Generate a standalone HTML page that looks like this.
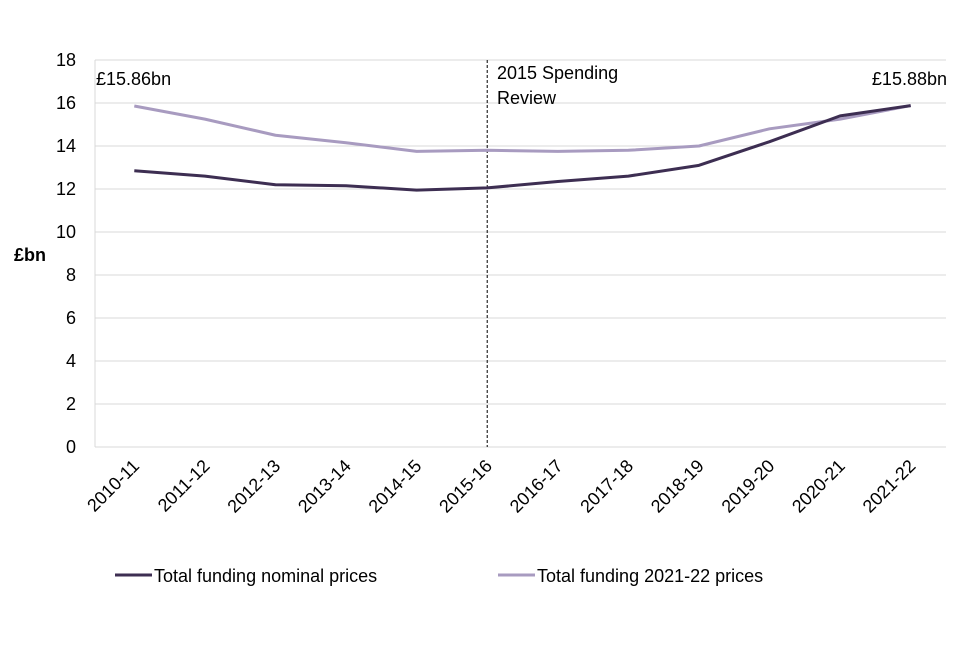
<!DOCTYPE html>
<html><head><meta charset="utf-8"><style>
body{margin:0;background:#fff;}
svg text{font-family:"Liberation Sans",Arial,sans-serif;fill:#000;}
</style></head><body>
<svg id="chart" width="960" height="640" viewBox="0 0 960 640" xmlns="http://www.w3.org/2000/svg">
<g id="grid"></g>
<g id="yticks"></g>
<g id="xticks"></g>
<text x="14" y="261" font-size="18" font-weight="bold">£bn</text>
<g id="series"></g>
<text x="96" y="85" font-size="18">£15.86bn</text>
<text x="947" y="85" font-size="18" text-anchor="end">£15.88bn</text>
<text x="497" y="79" font-size="18">2015 Spending</text>
<text x="497" y="104" font-size="18">Review</text>
<g>
<line x1="115" y1="575" x2="152" y2="575" stroke="#3d2e52" stroke-width="3"/>
<text x="154" y="582" font-size="18">Total funding nominal prices</text>
<line x1="498" y1="575" x2="535" y2="575" stroke="#a89bc0" stroke-width="3"/>
<text x="537" y="582" font-size="18">Total funding 2021-22 prices</text>
</g>
</svg>
<script>
const categories=["2010-11","2011-12","2012-13","2013-14","2014-15","2015-16","2016-17","2017-18","2018-19","2019-20","2020-21","2021-22"];
const nominal=[12.85,12.6,12.2,12.15,11.95,12.05,12.35,12.6,13.1,14.2,15.4,15.88];
const real=[15.86,15.25,14.5,14.15,13.75,13.8,13.75,13.8,14.0,14.8,15.25,15.88];
const yTicks=[0,2,4,6,8,10,12,14,16,18];
const reviewIndex=5;
const L=99,R=946,T=60,B=447,ymax=18;
const NS="http://www.w3.org/2000/svg";
const bw=(R-L)/categories.length;
const xs=i=>L+bw*(i+0.5);
const ys=v=>B-(v/ymax)*(B-T);
function mk(tag,attrs,parent){const e=document.createElementNS(NS,tag);for(const k in attrs)e.setAttribute(k,attrs[k]);parent.appendChild(e);return e;}
const grid=document.getElementById('grid'),yt=document.getElementById('yticks'),xt=document.getElementById('xticks'),ser=document.getElementById('series');
yTicks.forEach(v=>{
 if(v>0){const g=mk('line',{x1:95,x2:R,y1:ys(v),y2:ys(v),stroke:'#d9d9d9','stroke-width':1},grid);
 
 }
 const t=mk('text',{x:95-19,y:ys(v)+6,'font-size':18,'text-anchor':'end'},yt);t.textContent=v;
 
 
});
const ax=mk('line',{x1:95,x2:95,y1:T,y2:B,stroke:'#d9d9d9'},grid);


const bx=mk('line',{x1:95,x2:R,y1:B,y2:B,stroke:'#d9d9d9'},grid);


categories.forEach((c,i)=>{
 const x=xs(i)+6,y=B+20;
 const t=mk('text',{x:x,y:y,'font-size':18,'text-anchor':'end',transform:`rotate(-45 ${x} ${y})`},xt);t.textContent=c;
 
 
});
const dl=mk('line',{x1:xs(reviewIndex),x2:xs(reviewIndex),y1:T,y2:B,stroke:'#000','stroke-dasharray':'3,2','stroke-width':1},ser);


function line(data,color,name){
 const p=mk('polyline',{points:data.map((v,i)=>xs(i)+','+ys(v)).join(' '),fill:'none',stroke:color,'stroke-width':3,'stroke-linejoin':'round'},ser);
 
 
}
line(real,'#a89bc0','line-real-prices');
line(nominal,'#3d2e52','line-nominal-prices');
</script>
</body></html>
